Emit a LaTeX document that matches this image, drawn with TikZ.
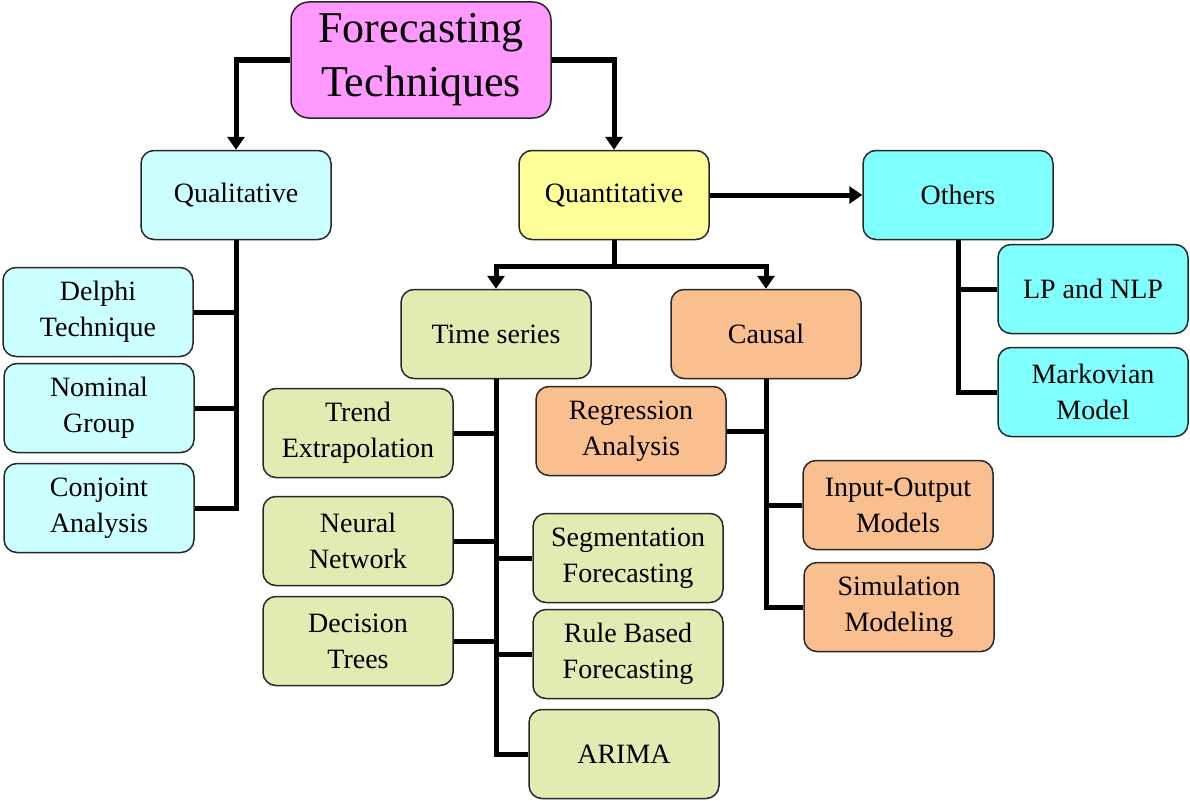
\documentclass[tikz,border=0pt]{standalone}
\usepackage{fontspec}
\setmainfont{Liberation Serif}
\usetikzlibrary{arrows.meta}
\definecolor{cTitle}{RGB}{255,153,255}
\definecolor{cQual}{RGB}{204,255,255}
\definecolor{cQuant}{RGB}{255,255,153}
\definecolor{cOth}{RGB}{128,255,255}
\definecolor{cGreen}{RGB}{224,236,178}
\definecolor{cOrange}{RGB}{250,191,143}
\definecolor{cBorder}{RGB}{40,40,40}
\tikzset{
  box/.style={draw=cBorder, line width=1.5pt, rounded corners=13pt,
    minimum width=190pt, minimum height=89pt, inner sep=0pt, align=center,
    font=\fontsize{28}{36}\selectfont},
  conn/.style={line width=5pt, black},
  arr/.style={conn, -{Triangle[width=17pt,length=13pt]}},
}
\begin{document}
\begin{tikzpicture}[x=1pt,y=-1pt]
\useasboundingbox (0,0) rectangle (1190,800);
% nodes
\node[box, fill=cTitle, minimum width=260pt, minimum height=116pt, rounded corners=18pt,
  font=\fontsize{44}{54}\selectfont] (title) at (421,60) {\raisebox{-4pt}{Forecasting}\\\raisebox{-4pt}{Techniques}};
\node[box, fill=cQual] (qual) at (236,195) {Qualitative};
\node[box, fill=cQuant] (quant) at (614,195) {Quantitative};
\node[box, fill=cOth] (oth) at (958,195) {Others};
\node[box, fill=cQual] (del) at (98,312) {Delphi\\Technique};
\node[box, fill=cQual] (nom) at (99,408) {Nominal\\Group};
\node[box, fill=cQual] (conj) at (99,508) {Conjoint\\Analysis};
\node[box, fill=cGreen] (ts) at (496,334) {Time series};
\node[box, fill=cOrange] (ca) at (766,334) {Causal};
\node[box, fill=cGreen] (trend) at (358,433) {Trend\\Extrapolation};
\node[box, fill=cGreen] (neur) at (358,541) {Neural\\Network};
\node[box, fill=cGreen] (dec) at (358,641) {Decision\\Trees};
\node[box, fill=cGreen] (seg) at (628,558) {Segmentation\\Forecasting};
\node[box, fill=cGreen] (rule) at (628,654) {Rule Based\\Forecasting};
\node[box, fill=cGreen] (arima) at (624,754) {ARIMA};
\node[box, fill=cOrange] (reg) at (631,431) {Regression\\Analysis};
\node[box, fill=cOrange] (io) at (898,505) {Input-Output\\Models};
\node[box, fill=cOrange] (sim) at (899,607) {Simulation\\Modeling};
\node[box, fill=cOth] (lp) at (1093,289) {LP and NLP};
\node[box, fill=cOth] (mark) at (1093,392) {Markovian\\Model};
% connectors
\draw[arr] (title.west) -| (qual.north);
\draw[arr] (title.east) -| (quant.north);
\draw[arr] (quant.east) -- (oth.west);
\draw[conn] (quant.south) -- ++(0,26) coordinate (qj);
\draw[arr] (qj) -| (ts.north);
\draw[arr] (qj) -| (ca.north);
% qualitative tree
\draw[conn] (qual.south) |- (conj.east);
\draw[conn] (del.east) -- (del.east -| qual.south);
\draw[conn] (nom.east) -- (nom.east -| qual.south);
% time series tree
\draw[conn] (ts.south) |- (arima.west);
\draw[conn] (trend.east) -- (trend.east -| ts.south);
\draw[conn] (neur.east) -- (neur.east -| ts.south);
\draw[conn] (dec.east) -- (dec.east -| ts.south);
\draw[conn] (seg.west) -- (seg.west -| ts.south);
\draw[conn] (rule.west) -- (rule.west -| ts.south);
% causal tree
\draw[conn] (ca.south) |- (sim.west);
\draw[conn] (reg.east) -- (reg.east -| ca.south);
\draw[conn] (io.west) -- (io.west -| ca.south);
% others tree
\draw[conn] (oth.south) |- (mark.west);
\draw[conn] (lp.west) -- (lp.west -| oth.south);
\end{tikzpicture}
\end{document}
